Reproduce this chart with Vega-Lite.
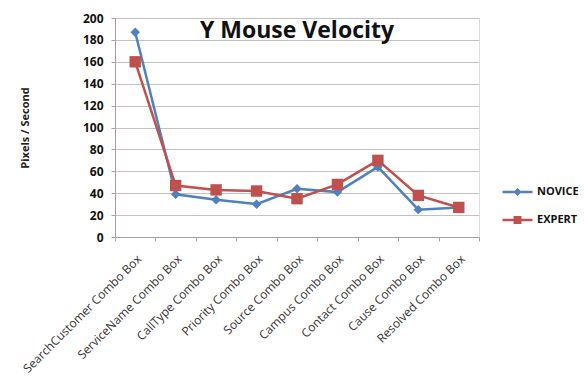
{
  "$schema": "https://vega.github.io/schema/vega-lite/v6.json",
  "width": 364,
  "height": 219,
  "autosize": {"type": "none"},
  "padding": {"left": 115, "top": 18, "right": 105, "bottom": 150},
  "background": "white",
  "title": {
    "text": "Y Mouse Velocity",
    "font": "Open Sans",
    "fontSize": 23,
    "fontWeight": "bold",
    "color": "#111111",
    "anchor": "middle",
    "baseline": "top",
    "offset": -31
  },
  "data": {
    "values": [
      {"category": "SearchCustomer Combo Box", "series": "NOVICE", "value": 187},
      {"category": "ServiceName Combo Box", "series": "NOVICE", "value": 39},
      {"category": "CallType Combo Box", "series": "NOVICE", "value": 34},
      {"category": "Priority Combo Box", "series": "NOVICE", "value": 30},
      {"category": "Source Combo Box", "series": "NOVICE", "value": 44},
      {"category": "Campus Combo Box", "series": "NOVICE", "value": 41},
      {"category": "Contact Combo Box", "series": "NOVICE", "value": 64},
      {"category": "Cause Combo Box", "series": "NOVICE", "value": 25},
      {"category": "Resolved Combo Box", "series": "NOVICE", "value": 27},
      {"category": "SearchCustomer Combo Box", "series": "EXPERT", "value": 160},
      {"category": "ServiceName Combo Box", "series": "EXPERT", "value": 47},
      {"category": "CallType Combo Box", "series": "EXPERT", "value": 43},
      {"category": "Priority Combo Box", "series": "EXPERT", "value": 42},
      {"category": "Source Combo Box", "series": "EXPERT", "value": 35},
      {"category": "Campus Combo Box", "series": "EXPERT", "value": 48},
      {"category": "Contact Combo Box", "series": "EXPERT", "value": 70},
      {"category": "Cause Combo Box", "series": "EXPERT", "value": 38},
      {"category": "Resolved Combo Box", "series": "EXPERT", "value": 27}
    ]
  },
  "encoding": {
    "x": {
      "field": "category",
      "type": "nominal",
      "sort": ["SearchCustomer Combo Box", "ServiceName Combo Box", "CallType Combo Box", "Priority Combo Box", "Source Combo Box", "Campus Combo Box", "Contact Combo Box", "Cause Combo Box", "Resolved Combo Box"],
      "scale": {"paddingInner": 0, "paddingOuter": 0},
      "axis": {
        "title": null,
        "labelAngle": -45,
        "labelFont": "Open Sans",
        "labelFontSize": 12,
        "labelColor": "#333333",
        "labelPadding": 12,
        "labelLimit": 300,
        "tickBand": "extent",
        "tickSize": 4,
        "tickColor": "#a8a0a0",
        "domainColor": "#a8a0a0",
        "grid": false
      }
    },
    "y": {
      "field": "value",
      "type": "quantitative",
      "scale": {"domain": [0, 200], "nice": false},
      "axis": {
        "title": "Pixels / Second",
        "titleFont": "Open Sans",
        "titleFontSize": 11,
        "titleFontWeight": "bold",
        "titleColor": "#222222",
        "titlePadding": 52,
        "values": [0, 20, 40, 60, 80, 100, 120, 140, 160, 180, 200],
        "labelFont": "Open Sans",
        "labelFontSize": 12,
        "labelFontWeight": "bold",
        "labelColor": "#111111",
        "labelPadding": 8,
        "tickSize": 4,
        "tickColor": "#a8a0a0",
        "domainColor": "#a8a0a0",
        "gridColor": "#c8c0c0",
        "gridWidth": 1.2
      }
    },
    "color": {
      "field": "series",
      "type": "nominal",
      "sort": ["NOVICE", "EXPERT"],
      "scale": {"domain": ["NOVICE", "EXPERT"], "range": ["#4F81BD", "#C0504D"]},
      "legend": {
        "title": null,
        "orient": "none",
        "legendX": 386,
        "legendY": 165,
        "symbolSize": 900,
        "clipHeight": 18,
        "rowPadding": 10,
        "labelFont": "Open Sans",
        "labelFontSize": 11,
        "labelFontWeight": "bold",
        "labelColor": "#111111",
        "labelOffset": 3,
        "encode": {
          "symbols": {
            "update": {
              "shape": {"signal": "datum.value == 'NOVICE' ? 'M-1,0L1,0M0,-0.15L0.15,0L0,0.15L-0.15,0Z' : 'M-1,0L1,0M-0.18,-0.18L0.18,-0.18L0.18,0.18L-0.18,0.18Z'"},
              "stroke": {"scale": "color", "field": "value"},
              "fill": {"scale": "color", "field": "value"},
              "strokeWidth": {"value": 2.5},
              "opacity": {"value": 1}
            }
          }
        }
      }
    }
  },
  "layer": [
    {
      "mark": {"type": "line", "strokeWidth": 2.5}
    },
    {
      "transform": [{"filter": "datum.series == 'NOVICE'"}],
      "mark": {"type": "point", "filled": true, "opacity": 1, "shape": "diamond", "size": 90}
    },
    {
      "transform": [{"filter": "datum.series == 'EXPERT'"}],
      "mark": {"type": "point", "filled": true, "opacity": 1, "shape": "square", "size": 130}
    }
  ]
}
